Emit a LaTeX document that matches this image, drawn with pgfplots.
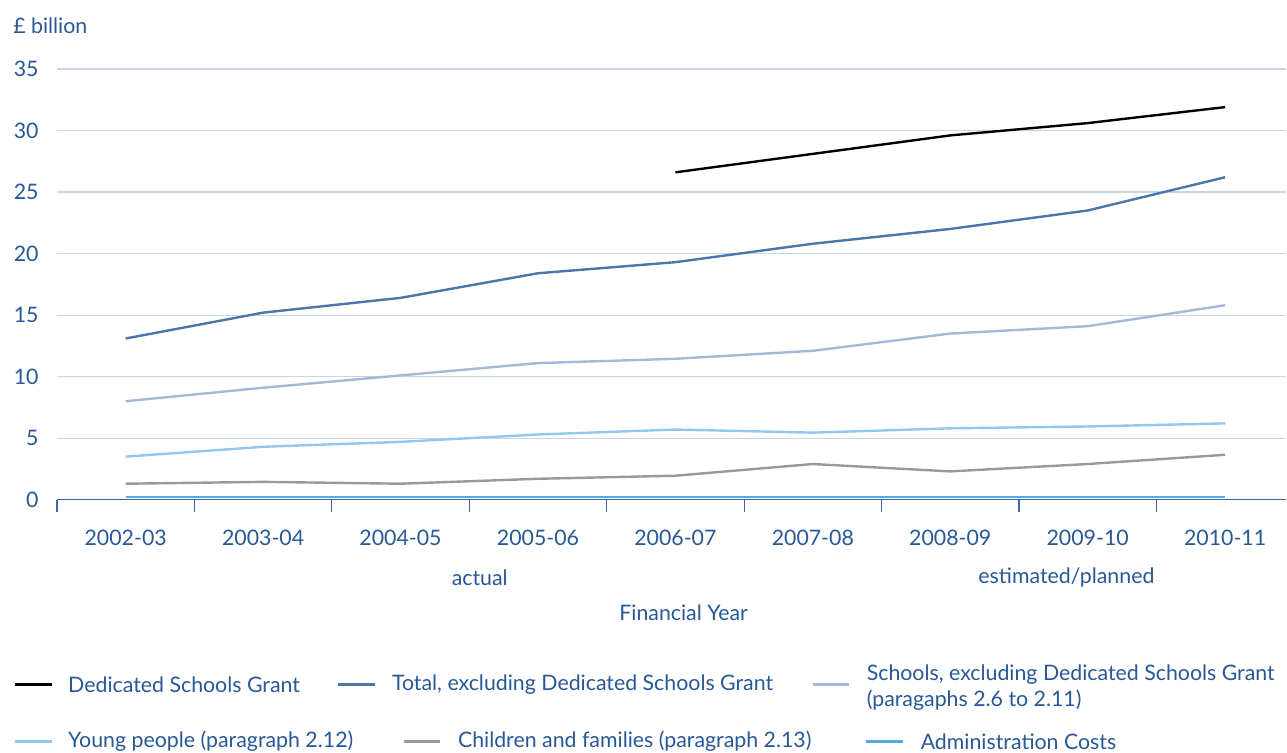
\documentclass[border=0pt]{standalone}
\usepackage{pgfplots}
\pgfplotsset{compat=1.18}
\usepackage{fontspec}
\setmainfont{Lato}
\definecolor{txt}{RGB}{40,88,150}
\definecolor{grid}{RGB}{200,213,232}
\definecolor{axisc}{RGB}{60,105,165}
\definecolor{cdsg}{RGB}{0,0,0}
\definecolor{ctot}{RGB}{74,118,170}
\definecolor{csch}{RGB}{163,185,214}
\definecolor{cyoung}{RGB}{146,200,238}
\definecolor{cchild}{RGB}{153,153,153}
\definecolor{cadmin}{RGB}{90,168,224}
\begin{document}
\begin{tikzpicture}[font=\fontsize{16pt}{19pt}\selectfont]
\begin{axis}[
  at={(42.75pt,189.75pt)}, anchor=south west,
  scale only axis, width=922.5pt, height=323.25pt,
  xmin=-0.5, xmax=8.445, ymin=0, ymax=35,
  axis x line=bottom, axis y line=left,
  x axis line style={draw=axisc, line width=1.1pt, -},
  y axis line style={draw=none},
  xtick={0,...,8},
  xticklabels={2002-03,2003-04,2004-05,2005-06,2006-07,2007-08,2008-09,2009-10,2010-11},
  minor xtick={-0.5,0.5,...,7.5},
  major x tick style={draw=none},
  minor x tick style={draw=axisc, line width=0.8pt},
  minor tick length=9pt,
  tick align=outside,
  ytick={0,5,...,35},
  major y tick style={draw=none},
  ymajorgrids, grid style={draw=grid, line width=0.9pt},
  /pgf/number format/assume math mode=true,
  ticklabel style={font=\fontsize{16pt}{19pt}\selectfont, text=txt},
  xticklabel style={yshift=-15pt},
  yticklabel style={xshift=-6pt},
  clip=false,
  every axis plot/.append style={line width=1.8pt},
]
\addplot[cadmin] coordinates {(0,0.2)(1,0.2)(2,0.2)(3,0.2)(4,0.2)(5,0.2)(6,0.2)(7,0.2)(8,0.2)};
\addplot[cchild] coordinates {(0,1.3)(1,1.45)(2,1.3)(3,1.7)(4,1.95)(5,2.9)(6,2.3)(7,2.9)(8,3.65)};
\addplot[cyoung] coordinates {(0,3.5)(1,4.3)(2,4.7)(3,5.3)(4,5.7)(5,5.45)(6,5.8)(7,5.95)(8,6.2)};
\addplot[csch] coordinates {(0,8.0)(1,9.1)(2,10.1)(3,11.1)(4,11.45)(5,12.1)(6,13.5)(7,14.1)(8,15.8)};
\addplot[ctot] coordinates {(0,13.1)(1,15.2)(2,16.4)(3,18.4)(4,19.3)(5,20.8)(6,22.0)(7,23.5)(8,26.2)};
\addplot[cdsg] coordinates {(4,26.6)(5,28.1)(6,29.6)(7,30.6)(8,31.9)};
\end{axis}
\begin{scope}[x=0.75pt,y=-0.75pt,yshift=564.75pt]
\useasboundingbox (0,0) rectangle (1287,753);
\node[anchor=west, text=txt, inner sep=0pt] at (13,26) {£ billion};
\node[text=txt] at (480,578) {actual};
\node[text=txt] at (1067,578) {estimated/planned};
\node[text=txt] at (684,613) {Financial Year};
\begin{scope}[every node/.style={anchor=west, text=txt, inner sep=0pt}]
\draw[cdsg, line width=1.8pt] (15,685) -- (52,685);
\node at (68,685) {Dedicated Schools Grant};
\draw[ctot, line width=1.8pt] (338,685) -- (375,685);
\node at (392,685) {Total, excluding Dedicated Schools Grant};
\draw[csch, line width=1.8pt] (813,685) -- (849,685);
\node[align=left] at (867,688) {Schools, excluding Dedicated Schools Grant\\(paragaphs 2.6 to 2.11)};
\draw[cyoung, line width=1.8pt] (15,742) -- (52,742);
\node at (68,742) {Young people (paragraph 2.12)};
\draw[cchild, line width=1.8pt] (404,742) -- (440,742);
\node at (458,742) {Children and families (paragraph 2.13)};
\draw[cadmin, line width=1.8pt] (866,742) -- (904,742);
\node at (921,742) {Administration Costs};
\end{scope}
\end{scope}
\end{tikzpicture}
\end{document}
